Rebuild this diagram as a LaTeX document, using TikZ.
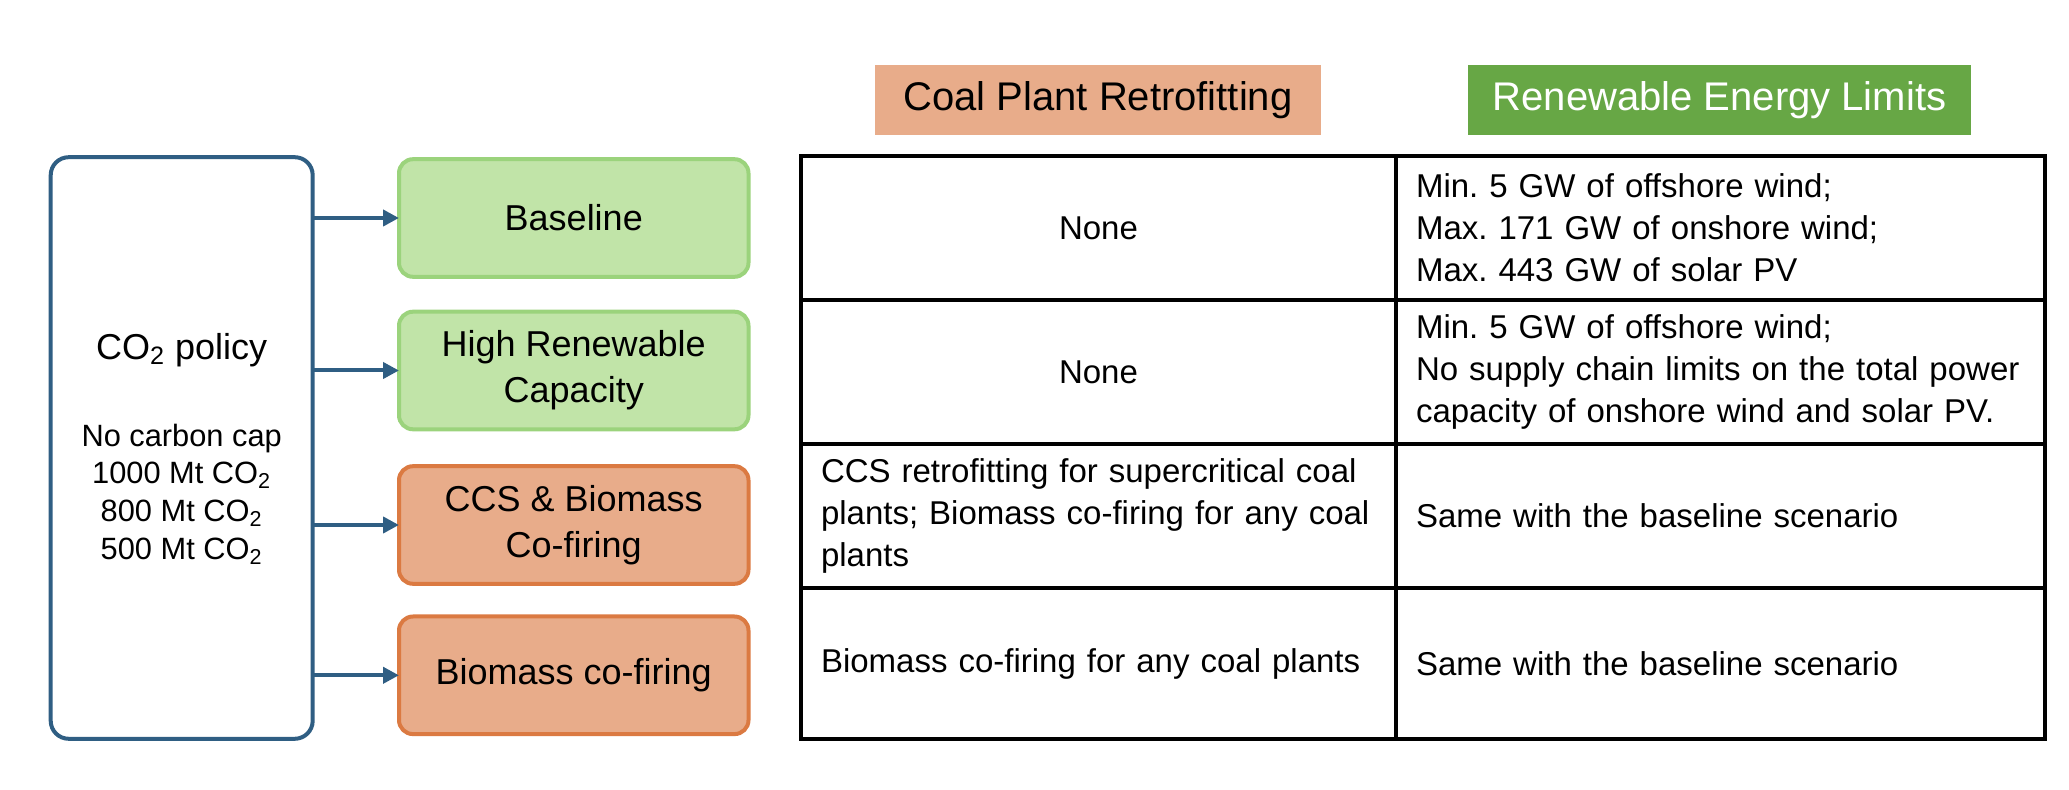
\documentclass[tikz,border=0pt]{standalone}
\usepackage{fontspec}
\setmainfont{Liberation Sans}
\usetikzlibrary{arrows.meta}
\definecolor{blueline}{HTML}{2F5E83}
\definecolor{greenfill}{HTML}{C1E4A8}
\definecolor{greenline}{HTML}{9BD37C}
\definecolor{orangefill}{HTML}{E8AC8A}
\definecolor{orangeline}{HTML}{DB7A42}
\definecolor{hdrgreen}{HTML}{67A745}
\frenchspacing
\begin{document}
\begin{tikzpicture}[x=0.5pt,y=-0.5pt,
  policybox/.style={draw=blueline, line width=2pt, rounded corners=9pt, minimum width=131pt, minimum height=290.8pt, inner sep=0pt, outer sep=0pt},
  scen/.style={line width=2pt, rounded corners=7pt, minimum width=174.75pt, minimum height=58.8pt, align=center, font=\fontsize{18}{23}\selectfont, outer sep=0pt, inner sep=0pt},
  greenbox/.style={scen, draw=greenline, fill=greenfill},
  orangebox/.style={scen, draw=orangeline, fill=orangefill},
  arr/.style={draw=blueline, line width=2pt, -{Triangle[length=8pt,width=8pt]}},
  hdr/.style={minimum height=35pt, font=\fontsize{20}{24}\selectfont, inner sep=0pt},
  cell/.style={draw=black, line width=1.6pt, inner xsep=10pt, inner ysep=0pt, font=\fontsize{16.5}{21}\selectfont},
  cone/.style={cell, text width=277.5pt, minimum width=297.5pt},
  ctwo/.style={cell, text width=304.5pt, minimum width=324.5pt}
]
\useasboundingbox (0,0) rectangle (2069,790);

% policy box
\node[policybox] (pol) at (181.7,448) {};
\node[font=\fontsize{18}{22}\selectfont] (poltitle) at (181.7,350) {CO\textsubscript{2} policy};
\node[font=\fontsize{15.4}{18.85}\selectfont, align=center] (pollist) at (181.7,494)
  {No carbon cap\\1000 Mt CO\textsubscript{2}\\800 Mt CO\textsubscript{2}\\500 Mt CO\textsubscript{2}};

% scenario boxes
\node[greenbox] (b1) at (573.75,218) {Baseline};
\node[greenbox] (b2) at (573.75,370.5) {High Renewable\\Capacity};
\node[orangebox] (b3) at (573.75,525) {CCS \& Biomass\\Co-firing};
\node[orangebox] (b4) at (573.75,675.3) {Biomass co-firing};

\foreach \b in {b1,b2,b3,b4}
  \draw[arr] (pol.east |- \b.west) -- (\b.west);

% headers
\node[hdr, fill=orangefill, minimum width=223pt] (h1) at (1098,100.5) {Coal Plant Retrofitting};
\node[hdr, fill=hdrgreen, text=white, minimum width=251.5pt] (h2) at (1719.5,100.5) {Renewable Energy Limits};

% table
\node[cone, minimum height=72pt, align=center] (r1a) at (1098.5,228) {None};
\node[ctwo, minimum height=72pt, align=left] (r1b) at (1720.5,228)
  {Min. 5 GW of offshore wind;\\Max. 171 GW of onshore wind;\\Max. 443 GW of solar PV};
\node[cone, minimum height=72pt, align=center] (r2a) at (1098.5,372) {None};
\node[ctwo, minimum height=72pt, align=left] (r2b) at (1720.5,372)
  {Min. 5 GW of offshore wind;\\No supply chain limits on the total power\\capacity of onshore wind and solar PV.};
\node[cone, minimum height=72pt, align=left] (r3a) at (1098.5,516)
  {CCS retrofitting for supercritical coal\\plants; Biomass co-firing for any coal\\plants};
\node[ctwo, minimum height=72pt, align=left] (r3b) at (1720.5,516) {Same with the baseline scenario};
\node[cone, minimum height=75.5pt, align=left] (r4a) at (1098.5,663.5) {Biomass co-firing for any coal plants};
\node[ctwo, minimum height=75.5pt, align=left] (r4b) at (1720.5,663.5) {Same with the baseline scenario};
\end{tikzpicture}
\end{document}
